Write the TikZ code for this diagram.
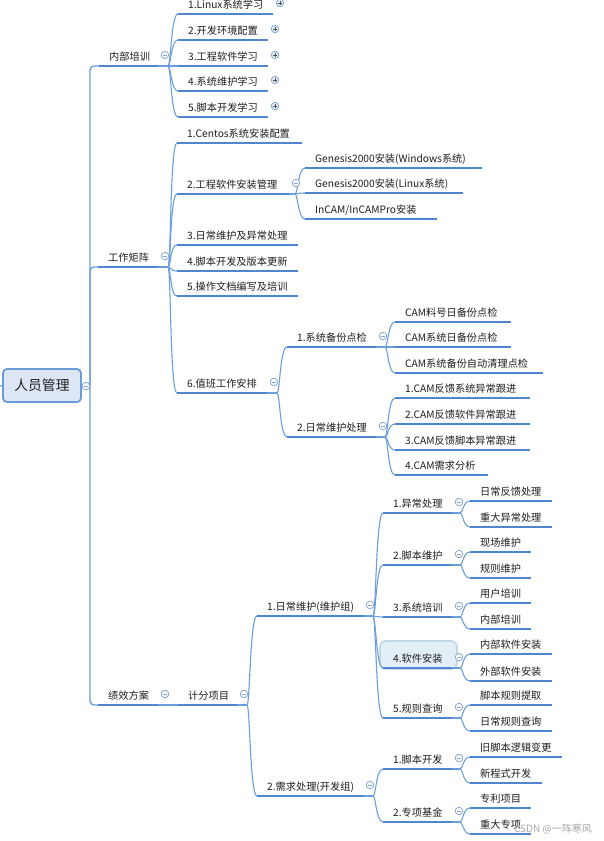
\documentclass[tikz,border=0pt]{standalone}
\usepackage{fontspec}
\usetikzlibrary{calc}
\newfontfamily\cjk{Noto Sans CJK SC}
\definecolor{ublue}{HTML}{4F86CF}
\definecolor{cblue}{HTML}{6A9FDB}
\definecolor{gblue}{HTML}{8AA8CF}
\definecolor{rootf}{HTML}{DCE6F4}
\definecolor{rootb}{HTML}{6A9BDA}
\definecolor{hboxf}{HTML}{E2EFF7}
\definecolor{hboxb}{HTML}{C3D9E8}
\definecolor{txt}{HTML}{1E1E1E}
\definecolor{wmgray}{HTML}{A8A8A8}
\tikzset{
  ttext/.style={font=\cjk\fontsize{10.2}{12}\selectfont, text=txt, inner sep=0pt, anchor=base west},
  uline/.style={draw=ublue, line width=2.6pt},
  conn/.style={draw=cblue, line width=1.1pt},
  trunk/.style={draw=cblue, line width=1.4pt, rounded corners=4pt},
  mcirc/.style={circle, draw=gblue, fill=white, line width=0.8pt, minimum size=7.5pt, inner sep=0pt,
    path picture={\draw[gblue, line width=0.8pt] ([xshift=-2pt]path picture bounding box.center) -- ([xshift=2pt]path picture bounding box.center);}},
  pcirc/.style={circle, draw=gblue, fill=hboxf, line width=0.8pt, minimum size=7.5pt, inner sep=0pt,
    path picture={\draw[black!70, line width=0.8pt] ([xshift=-2pt]path picture bounding box.center) -- ([xshift=2pt]path picture bounding box.center)
      ([yshift=-2pt]path picture bounding box.center) -- ([yshift=2pt]path picture bounding box.center);}},
  rootbox/.style={draw=rootb, fill=rootf, line width=1.8pt, rounded corners=4pt, minimum width=78pt, minimum height=33pt,
    inner sep=0pt, font=\cjk\fontsize{13.8}{16}\selectfont, text=txt},
  hbox/.style={draw=hboxb, fill=hboxf, line width=1.8pt, rounded corners=6pt, minimum width=77pt, minimum height=28pt, inner sep=0pt},
  wm/.style={font=\cjk\fontsize{10}{12}\selectfont, text=wmgray, inner sep=0pt}
}
\newcommand\topic[5]{%
  \coordinate (#1-l) at (#2,#4);
  \coordinate (#1-r) at (#3,#4);
  \node[ttext] (#1) at (#2+10,#4-6) {#5};
  \draw[uline] (#1-l) -- (#1-r);
}
\newcommand\mc[1]{\node[mcirc] (#1-c) at ($(#1-r)+(7,-11)$) {};}
\newcommand\pc[1]{\node[pcirc] (#1-c) at ($(#1-r)+(7,-11)$) {};}
\newcommand\jn[2]{\draw[conn] (#1-r) -- ++(#2,0) coordinate (#1-j);}
\newcommand\cn[2]{\draw[conn] (#1-j) .. controls +(3,0) and +(-7,0) .. (#2-l);}
\begin{document}
\begin{tikzpicture}[x=1pt,y=-1pt]
\useasboundingbox[fill=white] (0,0) rectangle (604,841);

% root
\node[rootbox] (root) at (42,385.5) {人员管理};
\coordinate (root-j) at (90,386);
\coordinate (stub) at (0,386);
\draw[conn] (stub) -- (root.west);
\draw[conn] (root.east) -- (root-j);

% level 1
\topic{nb}{99}{158}{66}{内部培训}
\topic{gz}{98}{158}{267}{工作矩阵}
\topic{jx}{98}{158}{705}{绩效方案}
\draw[trunk] (root-j) |- (nb-l);
\draw[trunk] (root-j) |- (gz-l);
\draw[trunk] (root-j) |- (jx-l);
\node[mcirc] (root-c) at (86,386) {};

% 内部培训
\topic{a1}{178}{273}{14}{1.Linux系统学习}
\topic{a2}{178}{268}{40}{2.开发环境配置}
\topic{a3}{178}{268}{66}{3.工程软件学习}
\topic{a4}{178}{268}{91}{4.系统维护学习}
\topic{a5}{178}{268}{117}{5.脚本开发学习}
\jn{nb}{10}
\cn{nb}{a1}\cn{nb}{a2}\cn{nb}{a3}\cn{nb}{a4}\cn{nb}{a5}
\mc{nb}
\pc{a1}\pc{a2}\pc{a3}\pc{a4}\pc{a5}

% 工作矩阵
\topic{b1}{177}{302}{143}{1.Centos系统安装配置}
\topic{b2}{177}{289}{194}{2.工程软件安装管理}
\topic{b3}{177}{298}{245}{3.日常维护及异常处理}
\topic{b4}{177}{298}{271}{4.脚本开发及版本更新}
\topic{b5}{177}{298}{296}{5.操作文档编写及培训}
\topic{b6}{177}{267}{393}{6.值班工作安排}
\jn{gz}{10}
\cn{gz}{b1}\cn{gz}{b2}\cn{gz}{b3}\cn{gz}{b4}\cn{gz}{b5}\cn{gz}{b6}
\mc{gz}

\topic{c1}{305}{482}{168}{Genesis2000安装(Windows系统)}
\topic{c2}{305}{463}{193}{Genesis2000安装(Linux系统)}
\topic{c3}{305}{437}{219}{InCAM/InCAMPro安装}
\jn{b2}{6}
\cn{b2}{c1}\cn{b2}{c2}\cn{b2}{c3}
\mc{b2}

\topic{d1}{287}{376}{347}{1.系统备份点检}
\topic{d2}{287}{376}{437}{2.日常维护处理}
\jn{b6}{10}
\cn{b6}{d1}\cn{b6}{d2}
\mc{b6}

\topic{e1}{395}{511}{322}{CAM料号日备份点检}
\topic{e2}{395}{511}{347}{CAM系统日备份点检}
\topic{e3}{395}{543}{373}{CAM系统备份自动清理点检}
\jn{d1}{9}
\cn{d1}{e1}\cn{d1}{e2}\cn{d1}{e3}
\mc{d1}
\topic{e4}{395}{530}{398}{1.CAM反馈系统异常跟进}
\topic{e5}{395}{530}{424}{2.CAM反馈软件异常跟进}
\topic{e6}{395}{530}{450}{3.CAM反馈脚本异常跟进}
\topic{e7}{395}{488}{475}{4.CAM需求分析}
\jn{d2}{9}
\cn{d2}{e4}\cn{d2}{e5}\cn{d2}{e6}\cn{d2}{e7}
\mc{d2}

% 绩效方案
\topic{f1}{178}{237}{705}{计分项目}
\draw[conn] (jx-r) -- (f1-l);
\mc{jx}

\topic{g1}{257}{363}{616}{1.日常维护(维护组)}
\topic{g2}{257}{363}{796}{2.需求处理(开发组)}
\jn{f1}{10}
\cn{f1}{g1}\cn{f1}{g2}
\mc{f1}

\node[hbox] (h4box) at (418.5,655) {};
\topic{h1}{383}{452}{513}{1.异常处理}
\topic{h2}{383}{452}{565}{2.脚本维护}
\topic{h3}{383}{452}{617}{3.系统培训}
\topic{h4}{383}{452}{668}{4.软件安装}
\topic{h5}{383}{452}{718}{5.规则查询}
\jn{g1}{10}
\cn{g1}{h1}\cn{g1}{h2}\cn{g1}{h3}\cn{g1}{h4}\cn{g1}{h5}
\mc{g1}
\topic{h6}{383}{452}{769}{1.脚本开发}
\topic{h7}{383}{452}{822}{2.专项基金}
\jn{g2}{10}
\cn{g2}{h6}\cn{g2}{h7}
\mc{g2}

\topic{i1}{470}{552}{501}{日常反馈处理}
\topic{i2}{470}{552}{527}{重大异常处理}
\jn{h1}{8}\cn{h1}{i1}\cn{h1}{i2}\mc{h1}
\topic{i3}{470}{531}{552}{现场维护}
\topic{i4}{470}{531}{578}{规则维护}
\jn{h2}{8}\cn{h2}{i3}\cn{h2}{i4}\mc{h2}
\topic{i5}{470}{531}{603}{用户培训}
\topic{i6}{470}{531}{629}{内部培训}
\jn{h3}{8}\cn{h3}{i5}\cn{h3}{i6}\mc{h3}
\topic{i7}{470}{552}{654}{内部软件安装}
\topic{i8}{470}{552}{681}{外部软件安装}
\jn{h4}{8}\cn{h4}{i7}\cn{h4}{i8}\mc{h4}
\topic{i9}{470}{552}{705}{脚本规则提取}
\topic{i10}{470}{552}{731}{日常规则查询}
\jn{h5}{8}\cn{h5}{i9}\cn{h5}{i10}\mc{h5}
\topic{i11}{470}{562}{757}{旧脚本逻辑变更}
\topic{i12}{470}{542}{783}{新程式开发}
\jn{h6}{8}\cn{h6}{i11}\cn{h6}{i12}\mc{h6}
\topic{i13}{470}{531}{808}{专利项目}
\topic{i14}{470}{531}{834}{重大专项}
\jn{h7}{8}\cn{h7}{i13}\cn{h7}{i14}\mc{h7}

\node[wm] (wm) at (553,829) {CSDN @一阵寒风};
\end{tikzpicture}
\end{document}
